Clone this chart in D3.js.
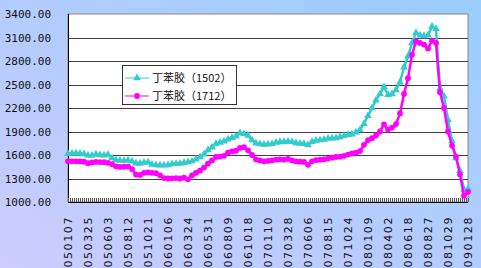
<!DOCTYPE html>
<html>
<head>
<meta charset="utf-8">
<script src="https://cdn.jsdelivr.net/npm/d3@7"></script>
<style>
  body { margin: 0; padding: 0; }
  svg { display: block; }
</style>
</head>
<body>
<div id="chart"></div>
<script>
// data, one point every ~10 trading days
var s1502 = [1617, 1620, 1622, 1620, 1612, 1598, 1595, 1610, 1600, 1598,
    1605, 1560, 1535, 1530, 1528, 1532, 1520, 1495, 1492, 1505,
    1508, 1480, 1472, 1470, 1468, 1472, 1485, 1490, 1492, 1500,
    1510, 1522, 1545, 1575, 1610, 1665, 1700, 1745, 1760, 1775,
    1800, 1820, 1840, 1880, 1870, 1850, 1790, 1750, 1740, 1735,
    1738, 1742, 1760, 1765, 1770, 1772, 1768, 1752, 1748, 1745,
    1728, 1770, 1785, 1790, 1798, 1810, 1815, 1818, 1830, 1845,
    1858, 1865, 1890, 1920, 2000, 2100, 2200, 2300, 2380, 2470,
    2370, 2380, 2430, 2530, 2720, 2860, 3030, 3160, 3130, 3120,
    3130, 3240, 3210, 2450, 2350, 2050, 1780, 1560, 1400, 1160, 1170];

var s1712 = [1520, 1520, 1520, 1518, 1515, 1495, 1505, 1512, 1510, 1508,
    1500, 1482, 1455, 1448, 1450, 1452, 1420, 1350, 1345, 1372,
    1378, 1372, 1368, 1340, 1305, 1300, 1302, 1305, 1300, 1310,
    1290, 1340, 1372, 1400, 1440, 1490, 1530, 1575, 1580, 1590,
    1630, 1645, 1655, 1690, 1700, 1660, 1600, 1545, 1530, 1520,
    1525, 1530, 1540, 1545, 1540, 1550, 1530, 1518, 1515, 1512,
    1475, 1520, 1535, 1540, 1545, 1555, 1565, 1575, 1580, 1590,
    1605, 1620, 1630, 1650, 1730, 1790, 1815, 1850, 1900, 1990,
    1925, 1950, 1995, 2130, 2380, 2580, 2880, 3050, 3030, 3010,
    2960, 3060, 3030, 2400, 2200, 1900, 1720, 1580, 1350, 1080, 1130];

var dateLabels = ["050107", "050325", "050603", "050812", "051021", "060106",
    "060324", "060531", "060809", "061018", "070110", "070328", "070606",
    "070815", "071024", "080109", "080402", "080618", "080827", "081029", "090128"];

var yTicks = [1000, 1300, 1600, 1900, 2200, 2500, 2800, 3100, 3400];
var seriesNames = ["丁苯胶（1502）", "丁苯胶（1712）"];

var svgWidth = 481;
var svgHeight = 268;

var margin = { top: 14, right: 13, bottom: 66, left: 68 };
var width = svgWidth - margin.left - margin.right;
var height = svgHeight - margin.top - margin.bottom;

var cyan = "#33cccc";
var pink = "#ff00ff";

var svg = d3.select("#chart")
    .append("svg")
    .attr("width", svgWidth)
    .attr("height", svgHeight);

// background gradient
var defs = svg.append("defs");
var grad = defs.append("linearGradient")
    .attr("id", "bg")
    .attr("x1", "0").attr("y1", "1")
    .attr("x2", "1").attr("y2", "0");
grad.append("stop").attr("offset", "0%").attr("stop-color", "#cdccfe");
grad.append("stop").attr("offset", "100%").attr("stop-color", "#9acdfe");

svg.append("rect")
    .attr("width", svgWidth)
    .attr("height", svgHeight)
    .attr("fill", "url(#bg)");

var chartGroup = svg.append("g")
    .attr("transform", `translate(${margin.left},${margin.top})`);

chartGroup.append("rect")
    .attr("width", width)
    .attr("height", height)
    .attr("fill", "white")
    .attr("stroke", "#888")
    .attr("stroke-width", 1);

var n = s1502.length;
var labelStep = (n - 1) / (dateLabels.length - 1);

var xScale = d3.scaleLinear()
    .domain([0, n - 1])
    .range([0, width]);

var yScale = d3.scaleLinear()
    .domain([1000, 3400])
    .range([height, 0]);

// gridlines
chartGroup.selectAll(".grid")
    .data(yTicks.slice(1, -1))
    .enter()
    .append("line")
    .attr("x1", 0)
    .attr("x2", width)
    .attr("y1", d => Math.round(yScale(d)) + 0.5)
    .attr("y2", d => Math.round(yScale(d)) + 0.5)
    .attr("stroke", "#404040")
    .attr("stroke-width", 1);

// y axis labels
chartGroup.selectAll(".ylab")
    .data(yTicks)
    .enter()
    .append("text")
    .attr("x", -17)
    .attr("y", d => yScale(d) + 4)
    .attr("text-anchor", "end")
    .style("font-family", "'DejaVu Sans Mono', monospace")
    .style("font-size", "11px")
    .attr("fill", "#111")
    .text(d => d.toFixed(2));

// left axis line
chartGroup.append("line")
    .attr("x1", 0.5).attr("x2", 0.5)
    .attr("y1", 0).attr("y2", height)
    .attr("stroke", "black");

// x axis with dense ticks
var tickPos = d3.range(0, n - 1 + 0.001, 0.5);
chartGroup.selectAll(".xtick")
    .data(tickPos)
    .enter()
    .append("line")
    .attr("x1", d => Math.round(xScale(d)) + 0.5)
    .attr("x2", d => Math.round(xScale(d)) + 0.5)
    .attr("y1", height - 4)
    .attr("y2", height)
    .attr("stroke", "#555");

chartGroup.append("line")
    .attr("x1", 0).attr("x2", width)
    .attr("y1", height + 0.5).attr("y2", height + 0.5)
    .attr("stroke", "black");

// x labels, rotated
chartGroup.selectAll(".xlab")
    .data(dateLabels)
    .enter()
    .append("text")
    .attr("transform", (d, i) => `translate(${xScale(i * labelStep) + 4},${height + 14}) rotate(-90)`)
    .attr("text-anchor", "end")
    .style("font-family", "'DejaVu Sans', sans-serif")
    .style("font-size", "11px")
    .style("letter-spacing", "1.6px")
    .attr("fill", "#111")
    .text(d => d);

var line = d3.line()
    .x((d, i) => xScale(i))
    .y(d => yScale(d));

var tri = d3.symbol().type(d3.symbolTriangle).size(26);
var dot = d3.symbol().type(d3.symbolCircle).size(26);

// series 1502
chartGroup.append("path")
    .datum(s1502)
    .attr("d", line)
    .attr("fill", "none")
    .attr("stroke", cyan)
    .attr("stroke-width", 2.5);

chartGroup.selectAll(".m1502")
    .data(s1502)
    .enter()
    .append("path")
    .attr("d", tri)
    .attr("transform", (d, i) => `translate(${xScale(i)},${yScale(d)})`)
    .attr("fill", cyan);

// series 1712
chartGroup.append("path")
    .datum(s1712)
    .attr("d", line)
    .attr("fill", "none")
    .attr("stroke", pink)
    .attr("stroke-width", 2.5);

chartGroup.selectAll(".m1712")
    .data(s1712)
    .enter()
    .append("path")
    .attr("d", dot)
    .attr("transform", (d, i) => `translate(${xScale(i)},${yScale(d)})`)
    .attr("fill", pink);

// legend
var legend = svg.append("g")
    .attr("transform", "translate(122,65)");

legend.append("rect")
    .attr("x", 0.5).attr("y", 0.5)
    .attr("width", 114)
    .attr("height", 39)
    .attr("fill", "white")
    .attr("stroke", "#333");

var legendColors = [cyan, pink];
var legendSymbols = [tri, dot];

seriesNames.forEach(function (name, i) {
    var ly = 13 + i * 18;
    legend.append("line")
        .attr("x1", 3).attr("x2", 27)
        .attr("y1", ly).attr("y2", ly)
        .attr("stroke", legendColors[i]);
    legend.append("path")
        .attr("d", legendSymbols[i])
        .attr("transform", `translate(15,${ly})`)
        .attr("fill", legendColors[i]);
    legend.append("text")
        .attr("x", 30)
        .attr("y", ly + 4)
        .style("font-family", "'Noto Sans CJK SC', sans-serif")
        .style("font-size", "11px")
        .attr("fill", "#111")
        .text(name);
});
</script>
</body>
</html>
